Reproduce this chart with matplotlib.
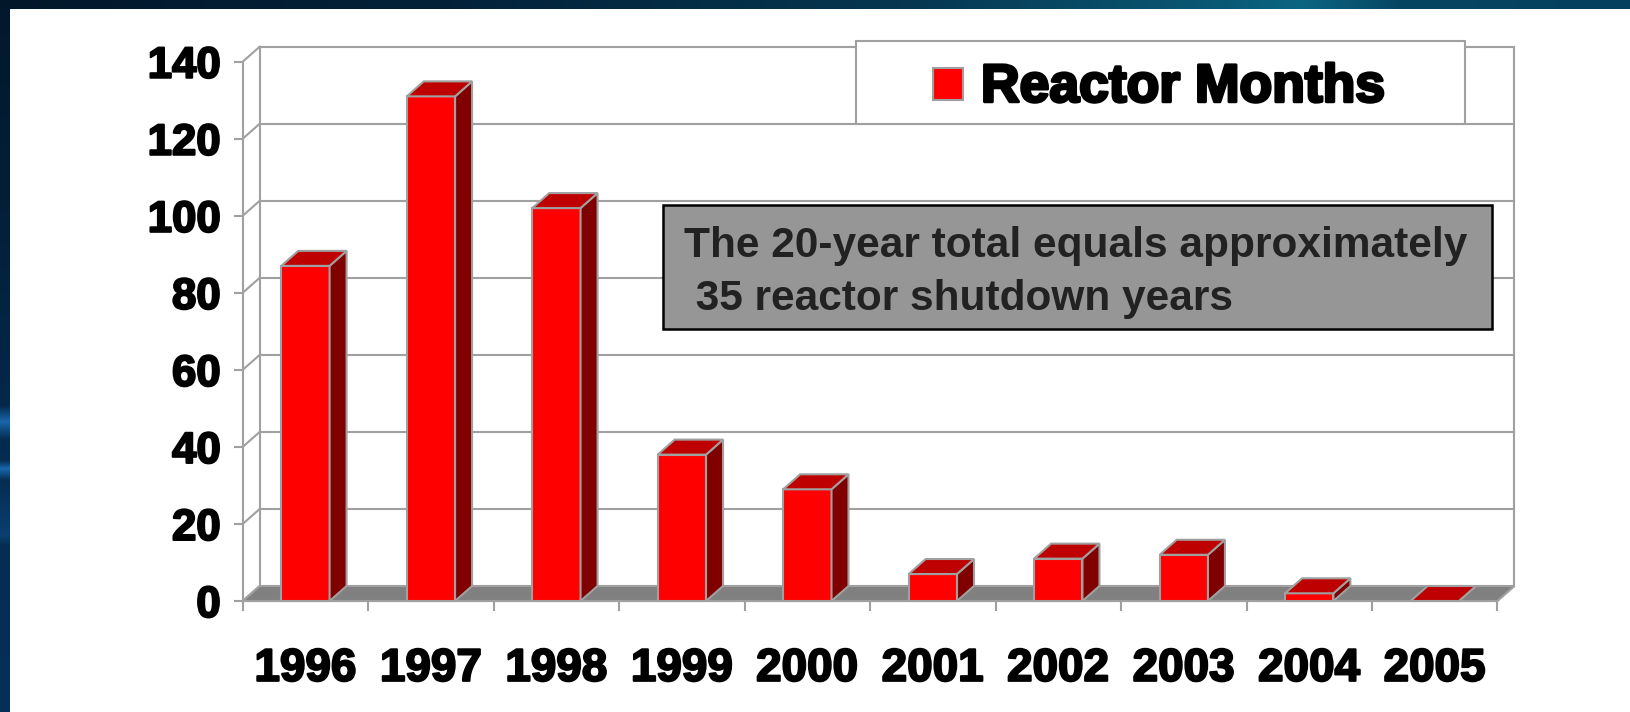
import matplotlib
matplotlib.use('Agg')
import matplotlib.pyplot as plt
import matplotlib.patheffects as pe
from matplotlib.patches import Polygon, Rectangle
import numpy as np

# data
years = ['1996', '1997', '1998', '1999', '2000', '2001', '2002', '2003', '2004', '2005']
reactor_months = [87, 131, 102, 38, 29, 7, 11, 12, 2, 0]
y_ticks = [0, 20, 40, 60, 80, 100, 120, 140]
legend_label = 'Reactor Months'
note_lines = ['The 20-year total equals approximately', ' 35 reactor shutdown years']

W, H = 1631, 712
FONT = 'Liberation Sans'
GRID = '#a0a0a0'
FRONT, TOP, SIDE = '#ff0000', '#bf0000', '#800000'

# fake 3d depth, in data units
DX = 17 / 125.5
DY = 15 / 3.852
BW = 0.385


def fx(x):
    return x / W


def fy(y):
    return 1 - y / H


def hex2rgb(c):
    return [int(c[i:i + 2], 16) / 255 for i in (1, 3, 5)]


def gradient(n, stops, colors):
    cols = np.array([hex2rgb(c) for c in colors])
    pos = np.arange(n)
    return np.stack([np.interp(pos, stops, cols[:, k]) for k in range(3)], axis=-1)


fig = plt.figure(figsize=(W / 100, H / 100), dpi=100)

# slide background: dark blue frame on top and left, white panel
img = np.ones((H, W, 3))
top = gradient(W, [0, 450, 900, 1230, 1300, 1400, 1631],
               ['#02172a', '#03223a', '#063650', '#0a5a76', '#0b6682', '#074663', '#05405e'])
img[:9, :, :] = top[None, :, :]
left = gradient(H, [0, 200, 405, 421, 440, 460, 468, 480, 535, 545, 712],
                ['#02182c', '#031f38', '#03284a', '#1a66a8', '#03294c', '#042d52', '#1a66a8',
                 '#042d52', '#0a3f70', '#042d52', '#04305a'])
img[9:, :10, :] = left[9:, None, :]
bg = fig.add_axes([0, 0, 1, 1])
bg.imshow(img, aspect='auto', interpolation='nearest')
bg.axis('off')

ax = fig.add_axes([fx(242.7), fy(601), fx(1497.5) - fx(242.7), fy(61.7) - fy(601)])
ax.set_xlim(0, 10)
ax.set_ylim(0, 140)
ax.patch.set_visible(False)

n = len(years)
ymax = y_ticks[-1]

# back wall gridlines and the diagonals on the side wall
for v in y_ticks[1:]:
    ax.plot([DX, n + DX], [v + DY, v + DY], color=GRID, lw=1.5, clip_on=False, zorder=1)
for v in y_ticks:
    ax.plot([0, DX], [v, v + DY], color=GRID, lw=1.5, clip_on=False, zorder=1)
ax.plot([DX, DX], [DY, ymax + DY], color=GRID, lw=1.5, clip_on=False, zorder=1)
ax.plot([n + DX, n + DX], [DY, ymax + DY], color=GRID, lw=1.5, clip_on=False, zorder=1)

# floor
ax.add_patch(Polygon([(0, 0), (n, 0), (n + DX, DY), (DX, DY)], closed=True,
                     facecolor='#808080', edgecolor=GRID, lw=1.5, clip_on=False, zorder=2))

# bars: front faces, then sides and tops
centers = np.arange(n) + 0.5
ax.bar(centers, reactor_months, width=BW, color=FRONT, edgecolor=GRID, linewidth=1.5,
       zorder=3, clip_on=False)
for c, v in zip(centers, reactor_months):
    xl, xr = c - BW / 2, c + BW / 2
    ax.add_patch(Polygon([(xr, 0), (xr + DX, DY), (xr + DX, v + DY), (xr, v)], closed=True,
                         facecolor=SIDE, edgecolor=GRID, lw=1.5, clip_on=False, zorder=3))
    ax.add_patch(Polygon([(xl, v), (xr, v), (xr + DX, v + DY), (xl + DX, v + DY)], closed=True,
                         facecolor=TOP, edgecolor=GRID, lw=1.5, clip_on=False, zorder=3))

for s in ['top', 'right']:
    ax.spines[s].set_visible(False)
for s in ['left', 'bottom']:
    ax.spines[s].set_color(GRID)
    ax.spines[s].set_linewidth(1.5)

stroke = [pe.withStroke(linewidth=1.5, foreground='black')]
ax.set_yticks(y_ticks)
ax.tick_params(axis='y', length=6.5, width=1.5, color=GRID, pad=9.4, labelsize=31.5)
for lab in ax.get_yticklabels():
    lab.set_fontfamily(FONT)
    lab.set_fontweight('bold')
    lab.set_path_effects(stroke)

ax.set_xticks(range(n + 1))
ax.set_xticklabels([])
ax.set_xticks(centers, minor=True)
ax.set_xticklabels(years, minor=True)
ax.tick_params(axis='x', which='major', length=7.2, width=1.5, color=GRID)
ax.tick_params(axis='x', which='minor', length=0, pad=33, labelsize=33)
for lab in ax.get_xticklabels(minor=True):
    lab.set_fontfamily(FONT)
    lab.set_fontweight('bold')
    lab.set_path_effects(stroke)

# legend box
fig.add_artist(Rectangle((fx(855.7), fy(124)), fx(1465) - fx(855.7), (124 - 41) / H,
                         transform=fig.transFigure, facecolor='white', edgecolor=GRID, lw=1.5))
fig.add_artist(Rectangle((fx(932.6), fy(100)), fx(963.4) - fx(932.6), (100 - 67.7) / H,
                         transform=fig.transFigure, facecolor=FRONT, edgecolor=GRID, lw=1.5))
fig.text(fx(981), fy(101.7), legend_label, fontsize=38.5, fontweight='bold', family=FONT,
         va='baseline', ha='left', color='black',
         path_effects=[pe.withStroke(linewidth=2.2, foreground='black')])

# note box
fig.add_artist(Rectangle((fx(662.7), fy(329.3)), fx(1492.3) - fx(662.7), (329.3 - 205) / H,
                         transform=fig.transFigure, facecolor='#969696', edgecolor='black', lw=1.8))
for line, base in zip(note_lines, [256.7, 310]):
    fig.text(fx(684), fy(base), line, fontsize=30.5, fontweight='bold', family=FONT,
             va='baseline', ha='left', color='#222222')

fig.savefig('out.png', dpi=100)
